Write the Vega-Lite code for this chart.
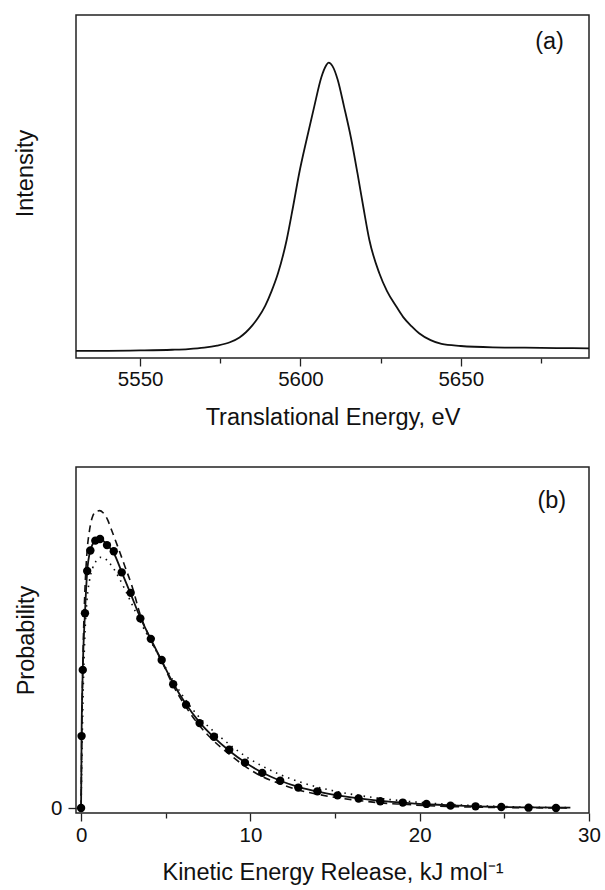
{
  "$schema": "https://vega.github.io/schema/vega-lite/v6.json",
  "background": "white",
  "padding": {"left": 12, "top": 14, "right": 0, "bottom": 0},
  "spacing": 36,
  "config": {
    "view": {"stroke": "#222", "strokeWidth": 1.5},
    "font": "Liberation Sans",
    "axis": {
      "labelFont": "Liberation Sans", "titleFont": "Liberation Sans",
      "labelColor": "#111", "titleColor": "#111", "tickColor": "#222", "tickWidth": 1.3,
      "domain": false, "grid": false, "titleFontWeight": "normal",
      "labelFontSize": 20.5, "titleFontSize": 23.5, "labelFlush": false
    }
  },
  "datasets": {
    "peak": [
      {"energy": 5530, "intensity": 0.021}, {"energy": 5540, "intensity": 0.021}, {"energy": 5550, "intensity": 0.022},
      {"energy": 5560, "intensity": 0.024}, {"energy": 5565, "intensity": 0.026}, {"energy": 5570, "intensity": 0.030},
      {"energy": 5574, "intensity": 0.036}, {"energy": 5578, "intensity": 0.046}, {"energy": 5581, "intensity": 0.060},
      {"energy": 5583, "intensity": 0.075}, {"energy": 5585, "intensity": 0.095}, {"energy": 5587, "intensity": 0.120},
      {"energy": 5589, "intensity": 0.152}, {"energy": 5591, "intensity": 0.195}, {"energy": 5593, "intensity": 0.247},
      {"energy": 5595.7, "intensity": 0.344}, {"energy": 5597.7, "intensity": 0.441}, {"energy": 5599.6, "intensity": 0.538},
      {"energy": 5602, "intensity": 0.640}, {"energy": 5604.3, "intensity": 0.733}, {"energy": 5606.5, "intensity": 0.818},
      {"energy": 5608, "intensity": 0.853}, {"energy": 5608.8, "intensity": 0.861}, {"energy": 5610, "intensity": 0.851},
      {"energy": 5611.6, "intensity": 0.812}, {"energy": 5613.6, "intensity": 0.733}, {"energy": 5615.8, "intensity": 0.640},
      {"energy": 5617.8, "intensity": 0.538}, {"energy": 5619.6, "intensity": 0.441}, {"energy": 5621.5, "intensity": 0.344},
      {"energy": 5624.6, "intensity": 0.247}, {"energy": 5627, "intensity": 0.195}, {"energy": 5629.9, "intensity": 0.150},
      {"energy": 5632, "intensity": 0.120}, {"energy": 5634.7, "intensity": 0.092}, {"energy": 5637, "intensity": 0.072},
      {"energy": 5640.6, "intensity": 0.052}, {"energy": 5644, "intensity": 0.041}, {"energy": 5650, "intensity": 0.035},
      {"energy": 5660, "intensity": 0.031}, {"energy": 5670, "intensity": 0.030}, {"energy": 5680, "intensity": 0.029},
      {"energy": 5690, "intensity": 0.028}
    ],
    "points": [
      {"ker": 0, "p": 0}, {"ker": 0.03, "p": 0.211}, {"ker": 0.1, "p": 0.405}, {"ker": 0.23, "p": 0.571},
      {"ker": 0.36, "p": 0.695}, {"ker": 0.55, "p": 0.755}, {"ker": 0.84, "p": 0.784}, {"ker": 1.12, "p": 0.789},
      {"ker": 1.53, "p": 0.771}, {"ker": 1.93, "p": 0.753}, {"ker": 2.4, "p": 0.691}, {"ker": 2.93, "p": 0.631},
      {"ker": 3.5, "p": 0.556}, {"ker": 4.12, "p": 0.496}, {"ker": 4.76, "p": 0.434}, {"ker": 5.44, "p": 0.363},
      {"ker": 6.2, "p": 0.303}, {"ker": 7.0, "p": 0.249}, {"ker": 7.85, "p": 0.209}, {"ker": 8.75, "p": 0.171},
      {"ker": 9.68, "p": 0.133}, {"ker": 10.7, "p": 0.103}, {"ker": 11.76, "p": 0.080}, {"ker": 12.83, "p": 0.060},
      {"ker": 13.96, "p": 0.049}, {"ker": 15.15, "p": 0.037}, {"ker": 16.39, "p": 0.028}, {"ker": 17.67, "p": 0.020},
      {"ker": 19.0, "p": 0.016}, {"ker": 20.4, "p": 0.012}, {"ker": 21.82, "p": 0.007}, {"ker": 23.3, "p": 0.005},
      {"ker": 24.82, "p": 0.003}, {"ker": 26.43, "p": 0.001}, {"ker": 28.05, "p": 0.0}
    ],
    "curves": [
      {"model": "solid", "ker": 0, "p": 0}, {"model": "solid", "ker": 0.03, "p": 0.211}, {"model": "solid", "ker": 0.1, "p": 0.405},
      {"model": "solid", "ker": 0.23, "p": 0.571}, {"model": "solid", "ker": 0.36, "p": 0.693}, {"model": "solid", "ker": 0.55, "p": 0.755},
      {"model": "solid", "ker": 0.84, "p": 0.784}, {"model": "solid", "ker": 1.12, "p": 0.789}, {"model": "solid", "ker": 1.53, "p": 0.772},
      {"model": "solid", "ker": 1.93, "p": 0.748}, {"model": "solid", "ker": 2.4, "p": 0.692}, {"model": "solid", "ker": 2.93, "p": 0.628},
      {"model": "solid", "ker": 3.5, "p": 0.558}, {"model": "solid", "ker": 4.12, "p": 0.495}, {"model": "solid", "ker": 4.76, "p": 0.432},
      {"model": "solid", "ker": 5.44, "p": 0.366}, {"model": "solid", "ker": 6.2, "p": 0.304}, {"model": "solid", "ker": 7.0, "p": 0.251},
      {"model": "solid", "ker": 7.85, "p": 0.207}, {"model": "solid", "ker": 8.75, "p": 0.168}, {"model": "solid", "ker": 9.68, "p": 0.134},
      {"model": "solid", "ker": 10.7, "p": 0.104}, {"model": "solid", "ker": 11.76, "p": 0.080}, {"model": "solid", "ker": 12.83, "p": 0.062},
      {"model": "solid", "ker": 13.96, "p": 0.048}, {"model": "solid", "ker": 15.15, "p": 0.037}, {"model": "solid", "ker": 16.39, "p": 0.028},
      {"model": "solid", "ker": 17.67, "p": 0.021}, {"model": "solid", "ker": 19.0, "p": 0.016}, {"model": "solid", "ker": 20.4, "p": 0.011},
      {"model": "solid", "ker": 21.82, "p": 0.008}, {"model": "solid", "ker": 23.3, "p": 0.005}, {"model": "solid", "ker": 24.82, "p": 0.003},
      {"model": "solid", "ker": 26.43, "p": 0.002}, {"model": "solid", "ker": 28.9, "p": 0.001},
      {"model": "dashed", "ker": 0, "p": 0}, {"model": "dashed", "ker": 0.05, "p": 0.25}, {"model": "dashed", "ker": 0.12, "p": 0.46},
      {"model": "dashed", "ker": 0.22, "p": 0.63}, {"model": "dashed", "ker": 0.35, "p": 0.75}, {"model": "dashed", "ker": 0.5, "p": 0.815},
      {"model": "dashed", "ker": 0.68, "p": 0.855}, {"model": "dashed", "ker": 0.9, "p": 0.87}, {"model": "dashed", "ker": 1.1, "p": 0.872},
      {"model": "dashed", "ker": 1.3, "p": 0.866}, {"model": "dashed", "ker": 1.55, "p": 0.847}, {"model": "dashed", "ker": 1.8, "p": 0.815},
      {"model": "dashed", "ker": 2.2, "p": 0.762}, {"model": "dashed", "ker": 2.6, "p": 0.707}, {"model": "dashed", "ker": 3.0, "p": 0.652},
      {"model": "dashed", "ker": 3.5, "p": 0.566}, {"model": "dashed", "ker": 4.1, "p": 0.495}, {"model": "dashed", "ker": 4.75, "p": 0.432},
      {"model": "dashed", "ker": 5.43, "p": 0.36}, {"model": "dashed", "ker": 6.2, "p": 0.296}, {"model": "dashed", "ker": 7.0, "p": 0.241},
      {"model": "dashed", "ker": 7.85, "p": 0.196}, {"model": "dashed", "ker": 8.75, "p": 0.158}, {"model": "dashed", "ker": 9.67, "p": 0.123},
      {"model": "dashed", "ker": 10.7, "p": 0.092}, {"model": "dashed", "ker": 11.76, "p": 0.071}, {"model": "dashed", "ker": 12.83, "p": 0.053},
      {"model": "dashed", "ker": 14, "p": 0.04}, {"model": "dashed", "ker": 15.15, "p": 0.03}, {"model": "dashed", "ker": 16.4, "p": 0.022},
      {"model": "dashed", "ker": 17.7, "p": 0.015}, {"model": "dashed", "ker": 19, "p": 0.011}, {"model": "dashed", "ker": 20.4, "p": 0.007},
      {"model": "dashed", "ker": 22, "p": 0.004}, {"model": "dashed", "ker": 24, "p": 0.002}, {"model": "dashed", "ker": 26, "p": 0.001},
      {"model": "dashed", "ker": 28.9, "p": 0},
      {"model": "dotted", "ker": 0, "p": 0}, {"model": "dotted", "ker": 0.05, "p": 0.15}, {"model": "dotted", "ker": 0.12, "p": 0.33},
      {"model": "dotted", "ker": 0.22, "p": 0.5}, {"model": "dotted", "ker": 0.35, "p": 0.61}, {"model": "dotted", "ker": 0.5, "p": 0.668},
      {"model": "dotted", "ker": 0.68, "p": 0.703}, {"model": "dotted", "ker": 0.9, "p": 0.725}, {"model": "dotted", "ker": 1.15, "p": 0.735},
      {"model": "dotted", "ker": 1.4, "p": 0.732}, {"model": "dotted", "ker": 1.65, "p": 0.72}, {"model": "dotted", "ker": 1.95, "p": 0.7},
      {"model": "dotted", "ker": 2.25, "p": 0.674}, {"model": "dotted", "ker": 2.55, "p": 0.645}, {"model": "dotted", "ker": 3.0, "p": 0.598},
      {"model": "dotted", "ker": 3.5, "p": 0.546}, {"model": "dotted", "ker": 4.1, "p": 0.49}, {"model": "dotted", "ker": 4.75, "p": 0.433},
      {"model": "dotted", "ker": 5.43, "p": 0.374}, {"model": "dotted", "ker": 6.2, "p": 0.315}, {"model": "dotted", "ker": 7.0, "p": 0.265},
      {"model": "dotted", "ker": 7.85, "p": 0.224}, {"model": "dotted", "ker": 8.75, "p": 0.187}, {"model": "dotted", "ker": 9.67, "p": 0.153},
      {"model": "dotted", "ker": 10.7, "p": 0.123}, {"model": "dotted", "ker": 11.76, "p": 0.098}, {"model": "dotted", "ker": 12.83, "p": 0.078},
      {"model": "dotted", "ker": 14, "p": 0.061}, {"model": "dotted", "ker": 15.15, "p": 0.048}, {"model": "dotted", "ker": 16.4, "p": 0.037},
      {"model": "dotted", "ker": 17.7, "p": 0.028}, {"model": "dotted", "ker": 19, "p": 0.021}, {"model": "dotted", "ker": 20.4, "p": 0.015},
      {"model": "dotted", "ker": 22, "p": 0.01}, {"model": "dotted", "ker": 24, "p": 0.006}, {"model": "dotted", "ker": 26, "p": 0.003},
      {"model": "dotted", "ker": 28.9, "p": 0.001}
    ],
    "panelA": [{"label": "(a)", "energy": 5677.7, "intensity": 0.92}],
    "panelB": [{"label": "(b)", "ker": 27.8, "p": 0.9}]
  },
  "vconcat": [
    {
      "width": 513,
      "height": 343,
      "layer": [
        {
          "data": {"name": "peak"},
          "mark": {"type": "line", "color": "#111", "strokeWidth": 1.8, "interpolate": "monotone"},
          "encoding": {
            "x": {
              "field": "energy", "type": "quantitative",
              "scale": {"domain": [5530, 5690], "nice": false, "zero": false},
              "axis": {
                "values": [5550, 5575, 5600, 5625, 5650, 5675],
                "labelExpr": "datum.value % 50 == 0 ? datum.label : ''",
                "format": "d",
                "tickSize": {"condition": {"test": "datum.value % 50 != 0", "value": 5}, "value": 8},
                "labelPadding": 3,
                "title": "Translational Energy, eV",
                "titlePadding": 16
              }
            },
            "y": {
              "field": "intensity", "type": "quantitative",
              "scale": {"domain": [0, 1], "nice": false},
              "axis": {"title": "Intensity", "labels": false, "ticks": false, "titlePadding": 39, "titleY": 158}
            }
          }
        },
        {
          "data": {"name": "panelA"},
          "mark": {"type": "text", "fontSize": 23.5, "font": "Liberation Sans", "color": "#111", "align": "center", "baseline": "middle"},
          "encoding": {
            "x": {"field": "energy", "type": "quantitative"},
            "y": {"field": "intensity", "type": "quantitative"},
            "text": {"field": "label"}
          }
        }
      ]
    },
    {
      "width": 513,
      "height": 346,
      "layer": [
        {
          "data": {"name": "curves"},
          "transform": [{"filter": "datum.model == 'dotted'"}],
          "mark": {"type": "line", "color": "#111", "strokeWidth": 1.6, "strokeDash": [1.5, 5], "interpolate": "monotone"},
          "encoding": {
            "x": {
              "field": "ker", "type": "quantitative",
              "scale": {"domain": [-0.3, 30], "nice": false, "zero": false},
              "axis": {
                "values": [0, 5, 10, 15, 20, 25, 30],
                "labelExpr": "datum.value % 10 == 0 ? datum.label : ''",
                "tickSize": {"condition": {"test": "datum.value % 10 != 0", "value": 5}, "value": 8},
                "labelPadding": 4,
                "title": "Kinetic Energy Release, kJ mol⁻¹",
                "titlePadding": 15
              }
            },
            "y": {
              "field": "p", "type": "quantitative",
              "scale": {"domain": [-0.0146, 1.0], "nice": false, "zero": false},
              "axis": {"title": "Probability", "values": [0], "format": "d", "tickSize": 8, "labelPadding": 6, "titlePadding": 12.5}
            }
          }
        },
        {
          "data": {"name": "curves"},
          "transform": [{"filter": "datum.model == 'dashed'"}],
          "mark": {"type": "line", "color": "#111", "strokeWidth": 1.6, "strokeDash": [7, 5], "interpolate": "monotone"},
          "encoding": {
            "x": {"field": "ker", "type": "quantitative"},
            "y": {"field": "p", "type": "quantitative"}
          }
        },
        {
          "data": {"name": "curves"},
          "transform": [{"filter": "datum.model == 'solid'"}],
          "mark": {"type": "line", "color": "#111", "strokeWidth": 1.8, "interpolate": "monotone"},
          "encoding": {
            "x": {"field": "ker", "type": "quantitative"},
            "y": {"field": "p", "type": "quantitative"}
          }
        },
        {
          "data": {"name": "points"},
          "mark": {"type": "circle", "color": "#000", "opacity": 1, "size": 70},
          "encoding": {
            "x": {"field": "ker", "type": "quantitative"},
            "y": {"field": "p", "type": "quantitative"}
          }
        },
        {
          "data": {"name": "panelB"},
          "mark": {"type": "text", "fontSize": 23.5, "font": "Liberation Sans", "color": "#111", "align": "center", "baseline": "middle"},
          "encoding": {
            "x": {"field": "ker", "type": "quantitative"},
            "y": {"field": "p", "type": "quantitative"},
            "text": {"field": "label"}
          }
        }
      ]
    }
  ]
}
